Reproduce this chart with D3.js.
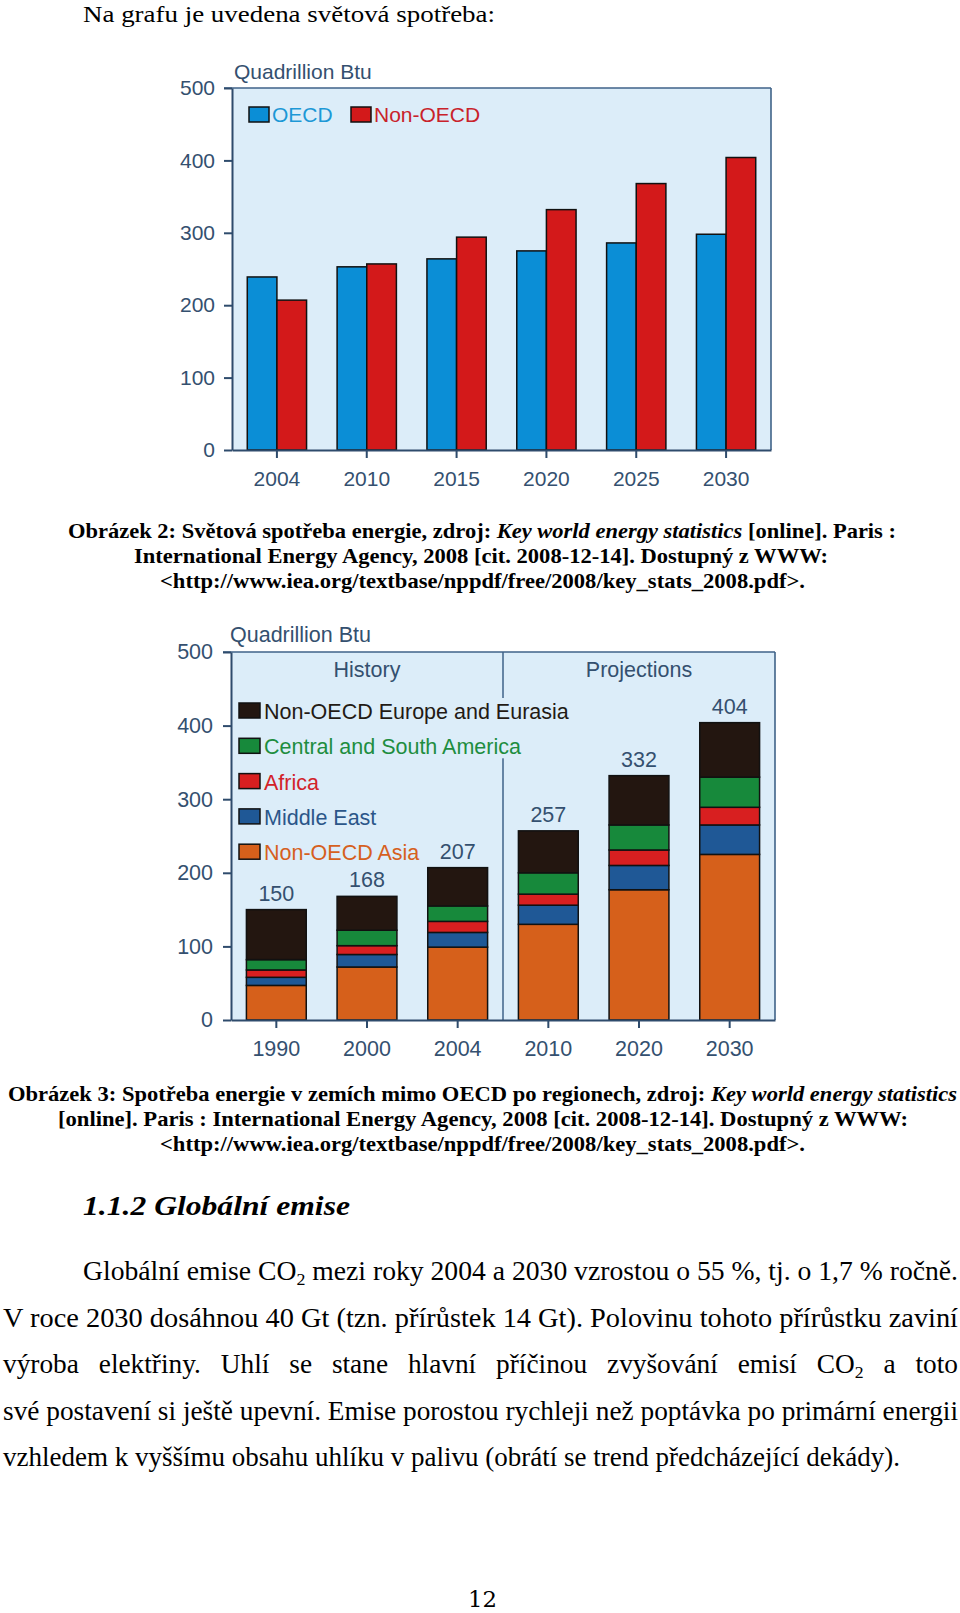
<!DOCTYPE html>
<html><head><meta charset="utf-8">
<script src="https://cdn.jsdelivr.net/npm/d3@7"></script>
<style>body{margin:0;background:#fff}svg{display:block}</style>
</head><body>
<svg id="page" width="960" height="1613"></svg>
<script>
// ---------- Chart 1 data (Quadrillion Btu) ----------
const years1 = ["2004", "2010", "2015", "2020", "2025", "2030"];
const oecd = [239, 253, 264, 275, 286, 298];
const nonOecd = [207, 257, 294, 332, 368, 404];
const series1 = ["OECD", "Non-OECD"];
const yTicks = [0, 100, 200, 300, 400, 500];

// ---------- Chart 2 data (Quadrillion Btu) ----------
const years2 = ["1990", "2000", "2004", "2010", "2020", "2030"];
const nonOecdAsia = [47, 72, 99, 130, 177, 225];
const middleEast = [11, 17, 20, 26, 33, 40];
const africa = [10, 12, 15, 15, 21, 24];
const centralSouthAmerica = [14, 21, 21, 29, 34, 41];
const nonOecdEurope = [68, 46, 52, 57, 67, 74];
const totals2 = [150, 168, 207, 257, 332, 404];
const regions2 = ["Non-OECD Asia", "Middle East", "Africa", "Central and South America", "Non-OECD Europe and Eurasia"];
const periods2 = ["History", "Projections"];

// ---------- styles ----------
const SANS = "'Liberation Sans', Arial, Helvetica, sans-serif";
const SERIF = "'Liberation Serif', 'Times New Roman', serif";
const AX = "#2e4b6c", BORDER = "#3f6288", TX = "#34506f", PLOT = "#dcedf9";
const svg = d3.select("#page");

// ================= CHART 1 =================
{
  const L = 232, R = 771, T = 88, B = 450, FS = 21;
  const x = d3.scaleBand().domain(years1).range([L, R]).paddingInner(0.34).paddingOuter(0.17);
  const xs = d3.scaleBand().domain(series1).range([0, x.bandwidth()]);
  const y = d3.scaleLinear().domain([0, 500]).range([B, T]);
  const color = d3.scaleOrdinal().domain(series1).range(["#0b8ed6", "#d3191a"]);
  const tcolor = d3.scaleOrdinal().domain(series1).range(["#1d98d6", "#c9222b"]);
  const g = svg.append("g");
  g.append("rect").attr("x", L).attr("y", T).attr("width", R - L).attr("height", B - T).attr("fill", PLOT);
  const rows = years1.map((yr, i) => ({ yr, vals: [oecd[i], nonOecd[i]] }));
  g.selectAll("g.grp").data(rows).join("g").attr("transform", d => `translate(${x(d.yr)},0)`)
    .selectAll("rect").data(d => d.vals.map((v, j) => ({ s: series1[j], v }))).join("rect")
    .attr("x", d => xs(d.s)).attr("width", xs.bandwidth())
    .attr("y", d => y(d.v)).attr("height", d => y(0) - y(d.v))
    .attr("fill", d => color(d.s)).attr("stroke", "#111").attr("stroke-width", 1.5);
  g.append("line").attr("x1", L - 8).attr("x2", R).attr("y1", T).attr("y2", T).attr("stroke", BORDER).attr("stroke-width", 1.6);
  g.append("line").attr("x1", R).attr("x2", R).attr("y1", T).attr("y2", B).attr("stroke", BORDER).attr("stroke-width", 1.6);
  const ya = g.append("g").attr("transform", `translate(${L},0)`)
    .call(d3.axisLeft(y).tickValues(yTicks).tickSize(8).tickSizeOuter(0).tickPadding(9));
  const xa = g.append("g").attr("transform", `translate(0,${B})`)
    .call(d3.axisBottom(x).tickSize(8).tickSizeOuter(0).tickPadding(13));
  [ya, xa].forEach(a => {
    a.attr("font-family", SANS).attr("font-size", FS);
    a.selectAll("path.domain").attr("stroke", AX).attr("stroke-width", 2);
    a.selectAll(".tick line").attr("stroke", AX).attr("stroke-width", 2);
    a.selectAll("text").attr("fill", TX);
  });
  g.append("text").attr("x", 234).attr("y", 79).attr("font-family", SANS).attr("font-size", FS)
    .attr("fill", TX).text("Quadrillion Btu");
  const lx = [249, 351];
  series1.forEach((s, i) => {
    g.append("rect").attr("x", lx[i]).attr("y", 107).attr("width", 20).attr("height", 15)
      .attr("fill", color(s)).attr("stroke", "#111").attr("stroke-width", 1.5);
    g.append("text").attr("x", lx[i] + 23).attr("y", 122).attr("font-family", SANS).attr("font-size", FS)
      .attr("fill", tcolor(s)).text(s);
  });
}

// ================= CHART 2 =================
{
  const L = 231, R = 775, T = 652, B = 1020, FS = 21.5;
  const x = d3.scaleBand().domain(years2).range([L, R]).paddingInner(0.34).paddingOuter(0.17);
  const y = d3.scaleLinear().domain([0, 500]).range([B, T]);
  const color = d3.scaleOrdinal().domain(regions2).range(["#d6601b", "#1f5896", "#d81f20", "#17893b", "#231610"]);
  const tcolor = d3.scaleOrdinal().domain(regions2).range(["#d6601e", "#2b5689", "#d2232a", "#1e8d40", "#231a14"]);
  const table = years2.map((yr, i) => ({
    year: yr,
    "Non-OECD Asia": nonOecdAsia[i], "Middle East": middleEast[i], "Africa": africa[i],
    "Central and South America": centralSouthAmerica[i], "Non-OECD Europe and Eurasia": nonOecdEurope[i]
  }));
  const stacked = d3.stack().keys(regions2)(table);
  const g = svg.append("g");
  g.append("rect").attr("x", L).attr("y", T).attr("width", R - L).attr("height", B - T).attr("fill", PLOT);
  const iSplit = years2.indexOf("2004");
  const divX = (x(years2[iSplit]) + x.bandwidth() + x(years2[iSplit + 1])) / 2;
  g.append("line").attr("x1", divX).attr("x2", divX).attr("y1", T).attr("y2", B).attr("stroke", BORDER).attr("stroke-width", 1.5);
  const mids = [(L + divX) / 2, (divX + R) / 2];
  periods2.forEach((p, i) => g.append("text").attr("x", mids[i]).attr("y", 677).attr("text-anchor", "middle")
    .attr("font-family", SANS).attr("font-size", FS).attr("fill", TX).text(p));
  g.selectAll("g.layer").data(stacked).join("g").attr("fill", d => color(d.key))
    .selectAll("rect").data(d => d).join("rect")
    .attr("x", d => x(d.data.year)).attr("width", x.bandwidth())
    .attr("y", d => y(d[1])).attr("height", d => y(d[0]) - y(d[1]))
    .attr("stroke", "#111").attr("stroke-width", 1.5);
  g.selectAll("text.tot").data(years2).join("text")
    .attr("x", d => x(d) + x.bandwidth() / 2).attr("y", (d, i) => y(totals2[i]) - 9)
    .attr("text-anchor", "middle").attr("font-family", SANS).attr("font-size", FS).attr("fill", TX)
    .text((d, i) => totals2[i]);
  g.append("line").attr("x1", L - 8).attr("x2", R).attr("y1", T).attr("y2", T).attr("stroke", BORDER).attr("stroke-width", 1.6);
  g.append("line").attr("x1", R).attr("x2", R).attr("y1", T).attr("y2", B).attr("stroke", BORDER).attr("stroke-width", 1.6);
  const ya = g.append("g").attr("transform", `translate(${L},0)`)
    .call(d3.axisLeft(y).tickValues(yTicks).tickSize(8).tickSizeOuter(0).tickPadding(10));
  const xa = g.append("g").attr("transform", `translate(0,${B})`)
    .call(d3.axisBottom(x).tickSize(8).tickSizeOuter(0).tickPadding(13));
  [ya, xa].forEach(a => {
    a.attr("font-family", SANS).attr("font-size", FS);
    a.selectAll("path.domain").attr("stroke", AX).attr("stroke-width", 2);
    a.selectAll(".tick line").attr("stroke", AX).attr("stroke-width", 2);
    a.selectAll("text").attr("fill", TX);
  });
  g.append("text").attr("x", 230).attr("y", 642).attr("font-family", SANS).attr("font-size", FS)
    .attr("fill", TX).text("Quadrillion Btu");
  const legendOrder = regions2.slice().reverse();
  const rowY = i => 703 + i * 35.3;
  const lg = g.append("g");
  const bg = lg.append("rect").attr("fill", PLOT);
  const texts = [];
  legendOrder.forEach((r, i) => {
    lg.append("rect").attr("x", 239).attr("y", rowY(i)).attr("width", 21).attr("height", 15)
      .attr("fill", color(r)).attr("stroke", "#111").attr("stroke-width", 1.5);
    texts.push(lg.append("text").attr("x", 264).attr("y", rowY(i) + 16).attr("font-family", SANS)
      .attr("font-size", FS).attr("fill", tcolor(r)).text(r));
  });
  const w0 = texts[0].node().getComputedTextLength();
  bg.attr("x", 236).attr("y", rowY(0) - 5).attr("width", 264 + w0 - 236 + 4).attr("height", rowY(1) + 20 - (rowY(0) - 5));
}

// ================= PAGE TEXT =================
function textLine(x, y, width, parts, o) {
  const t = svg.append("text").attr("x", x).attr("y", y)
    .attr("font-family", o.family || SERIF).attr("font-size", o.size)
    .attr("font-weight", o.weight || "normal").attr("font-style", o.style || "normal").attr("fill", "#000");
  let afterSub = false;
  parts.forEach(p => {
    if (typeof p === "string") p = { t: p };
    const ts = t.append("tspan").text(p.t);
    if (p.i) ts.attr("font-style", "italic");
    if (p.sub) { ts.attr("font-size", o.size * 0.65).attr("dy", o.size * 0.2); afterSub = true; }
    else if (afterSub) { ts.attr("dy", -o.size * 0.2); afterSub = false; }
  });
  const natural = t.node().getComputedTextLength();
  if (width) t.attr("textLength", width).attr("lengthAdjust", "spacingAndGlyphs");
  return natural;
}

textLine(83, 22, 412, ["Na grafu je uvedena světová spotřeba:"], { size: 24 });

const capB = { size: 22, weight: "bold" };
textLine(68, 538, 828, ["Obrázek 2: Světová spotřeba energie, zdroj: ", { t: "Key world energy statistics", i: true }, " [online]. Paris :"], capB);
textLine(134, 563, 694, ["International Energy Agency, 2008 [cit. 2008-12-14]. Dostupný z WWW:"], capB);
textLine(160, 588, 645, ["<http://www.iea.org/textbase/nppdf/free/2008/key_stats_2008.pdf>."], capB);

textLine(8, 1101, 949, ["Obrázek 3: Spotřeba energie v zemích mimo OECD po regionech, zdroj: ", { t: "Key world energy statistics", i: true }], capB);
textLine(58, 1126, 850, ["[online]. Paris : International Energy Agency, 2008 [cit. 2008-12-14]. Dostupný z WWW:"], capB);
textLine(160, 1151, 645, ["<http://www.iea.org/textbase/nppdf/free/2008/key_stats_2008.pdf>."], capB);

textLine(83, 1215, 267, ["1.1.2 Globální emise"], { size: 28, weight: "bold", style: "italic" });

const body = { size: 27 };
textLine(83, 1280, 875, ["Globální emise CO", { t: "2", sub: true }, " mezi roky 2004 a 2030 vzrostou o 55 %, tj. o 1,7 % ročně."], body);
textLine(3, 1327, 955, ["V roce 2030 dosáhnou 40 Gt (tzn. přírůstek 14 Gt). Polovinu tohoto přírůstku zaviní"], body);
const nat4 = textLine(3, 1420, 955, ["své postavení si ještě upevní. Emise porostou rychleji než poptávka po primární energii"], body);
textLine(3, 1466, 897, ["vzhledem k vyššímu obsahu uhlíku v palivu (obrátí se trend předcházející dekády)."], body);
{
  const factor = 955 / nat4;
  const words = [["výroba"], ["elektřiny."], ["Uhlí"], ["se"], ["stane"], ["hlavní"], ["příčinou"], ["zvyšování"], ["emisí"], ["CO", { t: "2", sub: true }], ["a"], ["toto"]];
  const x0 = 3, x1 = 958, yb = 1373;
  const nodes = [], widths = [];
  words.forEach(w => {
    const t = svg.append("text").attr("y", yb).attr("font-family", SERIF).attr("font-size", body.size).attr("fill", "#000");
    w.forEach(p => {
      if (typeof p === "string") p = { t: p };
      const ts = t.append("tspan").text(p.t);
      if (p.sub) { ts.attr("font-size", body.size * 0.65).attr("dy", body.size * 0.2); }
    });
    const wd = t.node().getComputedTextLength() * factor;
    t.attr("textLength", wd).attr("lengthAdjust", "spacingAndGlyphs");
    nodes.push(t); widths.push(wd);
  });
  const gap = (x1 - x0 - d3.sum(widths)) / (words.length - 1);
  let xx = x0;
  nodes.forEach((t, i) => { t.attr("x", xx); xx += widths[i] + gap; });
}

svg.append("text").attr("x", 468).attr("y", 1607).attr("font-family", "'DejaVu Serif', serif")
  .attr("font-size", 23).attr("textLength", 29).attr("lengthAdjust", "spacingAndGlyphs").attr("fill", "#000").text("12");
</script>
</body></html>
